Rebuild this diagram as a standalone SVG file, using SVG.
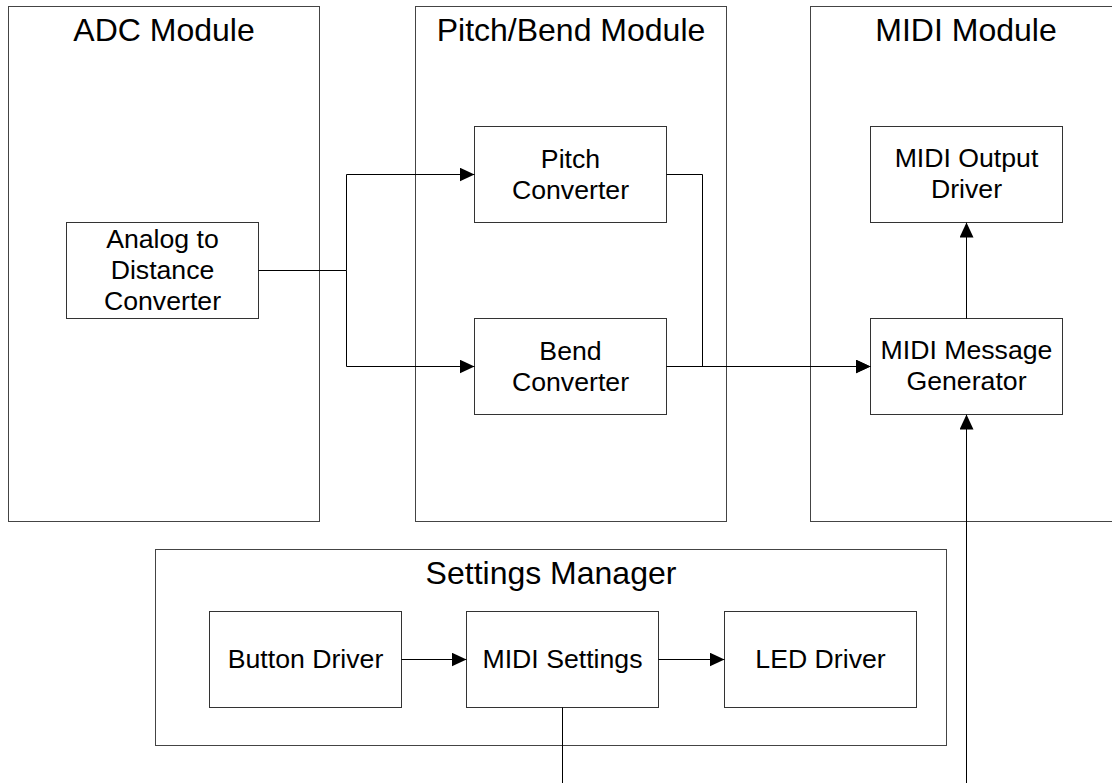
<svg xmlns="http://www.w3.org/2000/svg" width="1112" height="783" viewBox="0 0 1112 783">
<defs>
<style>
.mod{fill:#fff;stroke:#444;stroke-width:1}
.box{fill:#fff;stroke:#333;stroke-width:1}
.title{font-family:"Liberation Sans",Arial,sans-serif;font-size:32px;fill:#000;text-anchor:middle}
.lbl{font-family:"Liberation Sans",Arial,sans-serif;font-size:26.67px;fill:#000;text-anchor:middle}
.conn{fill:none;stroke:#000;stroke-width:1}
</style>
<marker id="arr" markerWidth="15" markerHeight="14" refX="15" refY="7" orient="auto" markerUnits="userSpaceOnUse">
<path d="M0,0 L15,7 L0,14 Z" fill="#000"/>
</marker>
</defs>
<rect width="1112" height="783" fill="#fff"/>
<g id="adc-module">
<rect class="mod" x="8.5" y="6.5" width="311" height="515"/>
<text class="title" x="164" y="41">ADC Module</text>
</g>
<g id="pitchbend-module">
<rect class="mod" x="415.5" y="6.5" width="311" height="515"/>
<text class="title" x="571" y="41">Pitch/Bend Module</text>
</g>
<g id="midi-module">
<rect class="mod" x="810.5" y="6.5" width="311" height="515"/>
<text class="title" x="966" y="41">MIDI Module</text>
</g>
<g id="settings-manager">
<rect class="mod" x="155.5" y="549.5" width="791" height="196"/>
<text class="title" x="551" y="584">Settings Manager</text>
</g>
<g id="analog-to-distance">
<rect class="box" x="66.5" y="222.5" width="192" height="96"/>
<text class="lbl" x="162.5" y="248">Analog to</text>
<text class="lbl" x="162.5" y="279">Distance</text>
<text class="lbl" x="162.5" y="310">Converter</text>
</g>
<g id="pitch-converter">
<rect class="box" x="474.5" y="126.5" width="192" height="96"/>
<text class="lbl" x="570.5" y="168">Pitch</text>
<text class="lbl" x="570.5" y="199">Converter</text>
</g>
<g id="bend-converter">
<rect class="box" x="474.5" y="318.5" width="192" height="96"/>
<text class="lbl" x="570.5" y="360">Bend</text>
<text class="lbl" x="570.5" y="391">Converter</text>
</g>
<g id="midi-output-driver">
<rect class="box" x="870.5" y="126.5" width="192" height="96"/>
<text class="lbl" x="966.5" y="167">MIDI Output</text>
<text class="lbl" x="966.5" y="198">Driver</text>
</g>
<g id="midi-message-generator">
<rect class="box" x="870.5" y="318.5" width="192" height="96"/>
<text class="lbl" x="966.5" y="359">MIDI Message</text>
<text class="lbl" x="966.5" y="390">Generator</text>
</g>
<g id="button-driver">
<rect class="box" x="209.5" y="611.5" width="192" height="96"/>
<text class="lbl" x="305.5" y="668">Button Driver</text>
</g>
<g id="midi-settings">
<rect class="box" x="466.5" y="611.5" width="192" height="96"/>
<text class="lbl" x="562.5" y="668">MIDI Settings</text>
</g>
<g id="led-driver">
<rect class="box" x="724.5" y="611.5" width="192" height="96"/>
<text class="lbl" x="820.5" y="668">LED Driver</text>
</g>
<g id="connectors">
<path class="conn" d="M258.5,270.5 H346.5"/>
<path class="conn" d="M346.5,270.5 V174.5 H474.5" marker-end="url(#arr)"/>
<path class="conn" d="M346.5,270.5 V366.5 H474.5" marker-end="url(#arr)"/>
<path class="conn" d="M666.5,174.5 H702.5 V366.5 H870.5" marker-end="url(#arr)"/>
<path class="conn" d="M666.5,366.5 H870.5" marker-end="url(#arr)"/>
<path class="conn" d="M966.5,318.5 V222.5" marker-end="url(#arr)"/>
<path class="conn" d="M966.5,790 V414.5" marker-end="url(#arr)"/>
<path class="conn" d="M562.5,707.5 V790"/>
<path class="conn" d="M401.5,659.5 H466.5" marker-end="url(#arr)"/>
<path class="conn" d="M658.5,659.5 H724.5" marker-end="url(#arr)"/>
</g>
</svg>
